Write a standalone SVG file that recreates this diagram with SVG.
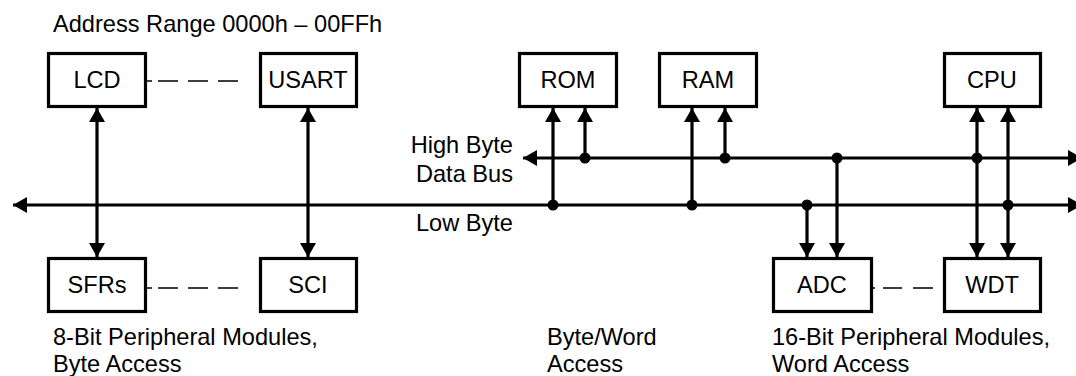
<svg xmlns="http://www.w3.org/2000/svg" width="1076" height="376" viewBox="0 0 1076 376">
<style>
text{font-family:"Liberation Sans",Arial,Helvetica,sans-serif;font-size:23.6px;fill:#000}
.lbl{text-anchor:middle}
.r{text-anchor:end}
.box{fill:#fff;stroke:#000;stroke-width:3.2}
.bus{stroke:#000;stroke-width:3.2;fill:none}
.dash{stroke:#000;stroke-width:1.5;fill:none}
.dot{fill:#000}
</style>
<defs>
<marker id="ah" viewBox="0 0 14 16" refX="14" refY="8" markerWidth="14" markerHeight="16" markerUnits="userSpaceOnUse" orient="auto-start-reverse">
<path d="M0,0 L14,8 L0,16 Z" fill="#000"/>
</marker>
</defs>
<text x="53" y="32">Address Range 0000h – 00FFh</text>
<g id="connectors">
<line class="bus" x1="13" y1="205" x2="1082" y2="205" marker-start="url(#ah)" marker-end="url(#ah)"/>
<line class="bus" x1="523" y1="158" x2="1082" y2="158" marker-start="url(#ah)" marker-end="url(#ah)"/>
<line class="bus" x1="97" y1="108" x2="97" y2="257" marker-start="url(#ah)" marker-end="url(#ah)"/>
<line class="bus" x1="308" y1="108" x2="308" y2="257" marker-start="url(#ah)" marker-end="url(#ah)"/>
<line class="bus" x1="553" y1="205" x2="553" y2="108" marker-end="url(#ah)"/>
<line class="bus" x1="585" y1="158" x2="585" y2="108" marker-end="url(#ah)"/>
<line class="bus" x1="692" y1="205" x2="692" y2="108" marker-end="url(#ah)"/>
<line class="bus" x1="725" y1="158" x2="725" y2="108" marker-end="url(#ah)"/>
<line class="bus" x1="807" y1="205" x2="807" y2="257" marker-end="url(#ah)"/>
<line class="bus" x1="837" y1="158" x2="837" y2="257" marker-end="url(#ah)"/>
<line class="bus" x1="977" y1="108" x2="977" y2="257" marker-start="url(#ah)" marker-end="url(#ah)"/>
<line class="bus" x1="1008" y1="108" x2="1008" y2="257" marker-start="url(#ah)" marker-end="url(#ah)"/>
<circle class="dot" cx="553" cy="205" r="5.5"/>
<circle class="dot" cx="585" cy="158" r="5.5"/>
<circle class="dot" cx="692" cy="205" r="5.5"/>
<circle class="dot" cx="725" cy="158" r="5.5"/>
<circle class="dot" cx="807" cy="205" r="5.5"/>
<circle class="dot" cx="837" cy="158" r="5.5"/>
<circle class="dot" cx="977" cy="158" r="5.5"/>
<circle class="dot" cx="1008" cy="205" r="5.5"/>
<line class="dash" x1="147" y1="81" x2="238" y2="81" stroke-dasharray="5 6 20 10 20 10 20 10"/>
<line class="dash" x1="147" y1="288" x2="238" y2="288" stroke-dasharray="5 6 20 10 20 10 20 10"/>
<line class="dash" x1="872" y1="288" x2="933" y2="288" stroke-dasharray="3 8 19 11 20 10"/>
</g>
<g id="lcd"><rect class="box" x="48.5" y="53.5" width="97" height="53"/><text class="lbl" x="97" y="88">LCD</text></g>
<g id="usart"><rect class="box" x="260.5" y="53.5" width="96" height="53"/><text class="lbl" x="308" y="88">USART</text></g>
<g id="rom"><rect class="box" x="519.5" y="53.5" width="97" height="53"/><text class="lbl" x="568" y="88">ROM</text></g>
<g id="ram"><rect class="box" x="659.5" y="53.5" width="97" height="53"/><text class="lbl" x="708" y="88">RAM</text></g>
<g id="cpu"><rect class="box" x="944.5" y="53.5" width="96" height="53"/><text class="lbl" x="992" y="88">CPU</text></g>
<g id="sfrs"><rect class="box" x="48.5" y="258.5" width="97" height="53"/><text class="lbl" x="97" y="293">SFRs</text></g>
<g id="sci"><rect class="box" x="260.5" y="258.5" width="96" height="53"/><text class="lbl" x="308" y="293">SCI</text></g>
<g id="adc"><rect class="box" x="773.5" y="258.5" width="98" height="53"/><text class="lbl" x="822" y="293">ADC</text></g>
<g id="wdt"><rect class="box" x="944.5" y="258.5" width="96" height="53"/><text class="lbl" x="992" y="293">WDT</text></g>
<text class="r" x="513" y="153">High Byte</text>
<text class="r" x="513" y="182">Data Bus</text>
<text class="r" x="513" y="231">Low Byte</text>
<text x="53" y="345">8-Bit Peripheral Modules,</text>
<text x="53" y="372">Byte Access</text>
<text x="547" y="345">Byte/Word</text>
<text x="547" y="372">Access</text>
<text x="772" y="345">16-Bit Peripheral Modules,</text>
<text x="772" y="372">Word Access</text>
</svg>
